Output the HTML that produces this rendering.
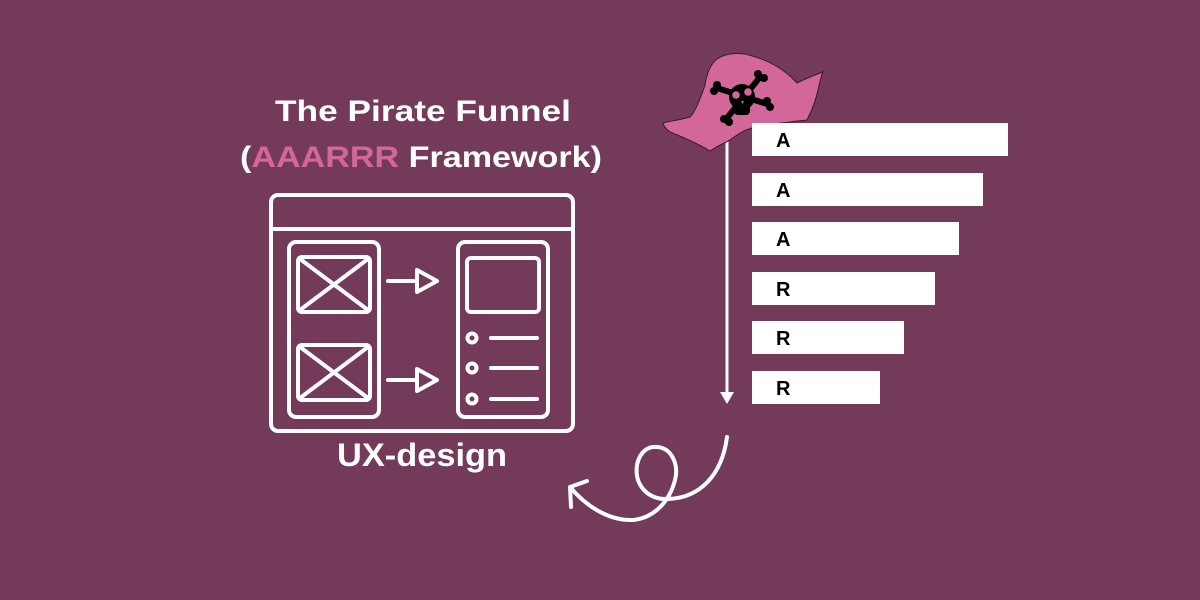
<!DOCTYPE html>
<html><head><style>
html,body{margin:0;padding:0;background:#743a5a;}
svg{display:block}
text{font-family:"Liberation Sans",sans-serif;font-weight:bold}
</style></head><body>
<svg width="1200" height="600" viewBox="0 0 1200 600">
<rect width="1200" height="600" fill="#743a5a"/>
<text x="423" y="121" font-size="30" fill="#fff" text-anchor="middle" textLength="296" lengthAdjust="spacingAndGlyphs">The Pirate Funnel</text>
<text x="240" y="167" font-size="30" fill="#fff" textLength="362" lengthAdjust="spacingAndGlyphs">(<tspan fill="#d4679a">AAARRR</tspan> Framework)</text>
<text x="422" y="466" font-size="32" fill="#fff" text-anchor="middle" textLength="170" lengthAdjust="spacingAndGlyphs">UX-design</text>
<g fill="none" stroke="#fff" stroke-width="4" stroke-linecap="round" stroke-linejoin="round">
<rect x="271" y="195" width="302" height="236" rx="7"/>
<line x1="271" y1="229" x2="573" y2="229"/>
<rect x="289" y="242" width="90" height="175" rx="7"/>
<rect x="298" y="257" width="72" height="55" rx="4"/>
<line x1="300" y1="259" x2="368" y2="310"/><line x1="368" y1="259" x2="300" y2="310"/>
<rect x="298" y="345" width="72" height="55" rx="4"/>
<line x1="300" y1="347" x2="368" y2="398"/><line x1="368" y1="347" x2="300" y2="398"/>
<line x1="388" y1="281" x2="415" y2="281"/><path d="M417,270 L437,281 L417,292 Z"/>
<line x1="388" y1="380" x2="415" y2="380"/><path d="M417,369 L437,380 L417,391 Z"/>
<rect x="458" y="242" width="90" height="175" rx="7"/>
<rect x="467" y="258" width="72" height="54" rx="4"/>
<circle cx="472" cy="338" r="4.5"/><line x1="491" y1="338" x2="537" y2="338"/>
<circle cx="472" cy="368" r="4.5"/><line x1="491" y1="368" x2="537" y2="368"/>
<circle cx="472" cy="399" r="4.5"/><line x1="491" y1="399" x2="537" y2="399"/>
<path d="M727,437 C722,475 700,498 668,499 C648,500 634,485 637,465 C640,450 650,446 657,447 C672,448 679,465 675,480 C670,500 655,518 633,520 C608,521 585,505 570,487"/>
<path d="M587,481 L570,487 L571,507"/>
</g>
<line x1="727" y1="140" x2="727" y2="395" stroke="#fff" stroke-width="3"/>
<path d="M720,392 L734,392 L727,404 Z" fill="#fff"/>
<path d="M823,72 C812,76 803,80 797,83 C785,70 770,60 745,54 C730,52 718,56 713,63 C708,70 706,78 705,85 C700,100 695,112 690,117 C680,120 670,121 663,123 C664,127 667,130 670,132 C685,138 700,145 710,151 C718,146 724,143 730,140 C738,134 744,130 752,128 C770,124 790,122 807,120 C812,110 816,100 818,90 C820,82 821,76 823,72 Z" fill="#d4679a" stroke="#3a1a2a" stroke-width="1"/>
<g stroke="#000" stroke-width="6" stroke-linecap="round">
<line x1="717" y1="88" x2="767" y2="104"/>
<line x1="760" y1="77" x2="727" y2="118"/>
</g>
<g fill="#000">
<circle cx="717" cy="85" r="4"/><circle cx="714" cy="91" r="4"/>
<circle cx="767" cy="101" r="4"/><circle cx="770" cy="107" r="4"/>
<circle cx="758" cy="74" r="4"/><circle cx="764" cy="78" r="4"/>
<circle cx="724" cy="119" r="4"/><circle cx="729" cy="122" r="4"/>
<circle cx="742" cy="97" r="13"/>
<rect x="734" y="102" width="16" height="13" rx="4"/>
</g>
<circle cx="736" cy="95" r="3.8" fill="#d4679a"/><circle cx="748" cy="92" r="3.8" fill="#d4679a"/>
<path d="M741,101 L744,101 L742.5,104 Z" fill="#d4679a"/>
<g fill="#fff">
<rect x="752" y="123" width="256" height="33"/>
<rect x="752" y="173" width="231" height="33"/>
<rect x="752" y="222" width="207" height="33"/>
<rect x="752" y="272" width="183" height="33"/>
<rect x="752" y="321" width="152" height="33"/>
<rect x="752" y="371" width="128" height="33"/>
</g>
<g font-size="20" fill="#000">
<text x="776" y="147">A</text><text x="776" y="197">A</text><text x="776" y="246">A</text>
<text x="776" y="296">R</text><text x="776" y="345">R</text><text x="776" y="395">R</text>
</g>
</svg>
</body></html>
